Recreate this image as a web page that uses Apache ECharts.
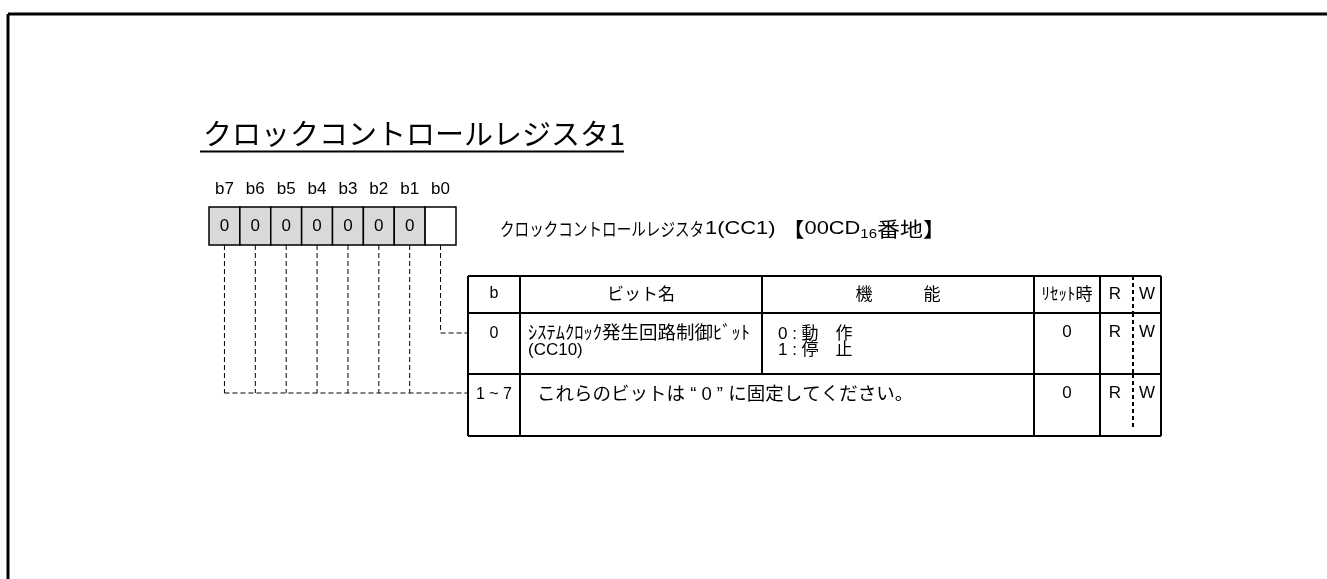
<!DOCTYPE html>
<html><head><meta charset="utf-8">
<script src="https://cdn.jsdelivr.net/npm/echarts@6/dist/echarts.min.js"></script>
<style>html,body{margin:0;padding:0;background:#fff}#c{width:1327px;height:579px}</style>
</head><body><div id="c"></div>
<script>
// ---------------- data ----------------
const titleText = 'クロックコントロールレジスタ1';
const bitLabels = ['b7','b6','b5','b4','b3','b2','b1','b0'];
const bitValues = ['0','0','0','0','0','0','0',''];
const registerName = 'クロックコントロールレジスタ';
const registerSymbol = '1(CC1)';
const registerAddress = '00CD';
const addressBase = '16';
const addressSuffix = '番地';
const headers = ['b','ビット名','機　　　能','ﾘｾｯﾄ時','R','W'];
const rowBits = ['0','1 ~ 7'];
const rowNames = [['ｼｽﾃﾑｸﾛｯｸ発生回路制御ﾋﾞｯﾄ','(CC10)'],['これらのビットは “ 0 ” に固定してください。']];
const rowFunctions = [['0 : 動　作','1 : 停　止'],[]];
const rowReset = ['0','0'];
const rowRead = ['R','R'];
const rowWrite = ['W','W'];
const rowBitGroups = [[7],[0,1,2,3,4,5,6]]; // indices into bitLabels feeding each table row

// ---------------- layout / style ----------------
const W = 1327, H = 579;
const LATIN = "'Liberation Sans', 'Noto Sans CJK JP', sans-serif";
const JP = "'Noto Sans CJK JP', 'Liberation Sans', sans-serif";
const L = {
  frame: {x: 8, y: 14, w: 3},
  title: {x: 203, y: 134, size: 29, ulX1: 200, ulX2: 624, ulY: 151.5},
  caption: {x: 500, y: 229, jpSize: 18, jpScale: 0.81, x2: 705, scale2: 1.15},
  bits: {left: 209, top: 207, width: 247, height: 38},
  cols: [468, 520, 762, 1034, 1100, 1161],
  rows: [276, 313, 374, 436],
  rwSplit: 1133,
  leaderY: [333, 393],
  headerY: 294,
  firstLineOff: 21,
  lineGap: 16,
  nameIndent: [8, 17],
  nameSize: [18.5, 18.5],
  funcIndent: 16,
  rX: 1115, wX: 1147
};

function txt(x, y, text, size, family, align) {
  return {type: 'text', style: {x, y, text, fontSize: size, fontFamily: family, fill: '#000',
    align: align || 'center', verticalAlign: 'middle', textAlign: align || 'center', textVerticalAlign: 'middle'}};
}
function ln(p1, p2, w, dash) {
  return {type: 'line', shape: {x1: p1[0], y1: p1[1], x2: p2[0], y2: p2[1]},
    style: {stroke: '#000', lineWidth: w, lineDash: dash || null}};
}

const option = {
  animation: false,
  backgroundColor: '#fff',
  grid: [
    {left: 0, top: 0, width: W, height: H},
    {left: L.bits.left, top: L.bits.top, width: L.bits.width, height: L.bits.height}
  ],
  xAxis: [
    {type: 'value', gridIndex: 0, min: 0, max: W, show: false},
    {type: 'category', gridIndex: 1, data: bitLabels, position: 'top',
     axisLine: {show: false}, axisTick: {show: false}, splitLine: {show: false},
     axisLabel: {fontSize: 17, fontFamily: LATIN, color: '#000', margin: 9}}
  ],
  yAxis: [
    {type: 'value', gridIndex: 0, min: 0, max: H, inverse: true, show: false},
    {type: 'value', gridIndex: 1, min: 0, max: 1, show: false}
  ],
  series: [
    // frame, title, caption
    {type: 'custom', xAxisIndex: 0, yAxisIndex: 0, data: [[0, 0]], silent: true,
     renderItem: function (params, api) {
       const P = (x, y) => api.coord([x, y]);
       const ch = [];
       ch.push(ln(P(L.frame.x, L.frame.y), P(W, L.frame.y), L.frame.w));
       ch.push(ln(P(L.frame.x, L.frame.y), P(L.frame.x, H), L.frame.w));
       const t = P(L.title.x, L.title.y);
       ch.push(txt(t[0], t[1], titleText, L.title.size, JP, 'left'));
       ch.push(ln(P(L.title.ulX1, L.title.ulY), P(L.title.ulX2, L.title.ulY), 2));
       const c = P(L.caption.x, L.caption.y);
       const jp = txt(0, 0, registerName, L.caption.jpSize, JP, 'left');
       jp.x = c[0]; jp.y = c[1]; jp.scaleX = L.caption.jpScale;
       ch.push(jp);
       const c2 = P(L.caption.x2, L.caption.y);
       ch.push({type: 'text', x: c2[0], y: c2[1], scaleX: L.caption.scale2, style: {
         x: 0, y: 0, align: 'left', verticalAlign: 'middle', textAlign: 'left', textVerticalAlign: 'middle',
         text: '{en|' + registerSymbol + ' }{jp|【}{en|' + registerAddress + '}{sub|' + addressBase + '}{jp|' + addressSuffix + '】}',
         rich: {
           jp: {fontSize: 20, fontFamily: JP, fill: '#000', lineHeight: 24},
           en: {fontSize: 19, fontFamily: LATIN, fill: '#000', lineHeight: 24},
           sub: {fontSize: 13, fontFamily: LATIN, fill: '#000', lineHeight: 24, verticalAlign: 'bottom'}
         }
       }});
       return {type: 'group', children: ch};
     }},
    // bit boxes
    {type: 'custom', xAxisIndex: 1, yAxisIndex: 1, silent: true,
     data: bitValues.map((v, i) => [i, v]),
     renderItem: function (params, api) {
       const i = api.value(0);
       const v = bitValues[params.dataIndex];
       const top = api.coord([i, 1]), bot = api.coord([i, 0]);
       const w = api.size([1, 0])[0];
       return {type: 'group', children: [
         {type: 'rect', shape: {x: top[0] - w / 2, y: top[1], width: w, height: bot[1] - top[1]},
          style: {fill: v === '' ? '#fff' : '#d9d9d9', stroke: '#000', lineWidth: 1.5}},
         txt(top[0], (top[1] + bot[1]) / 2, v, 17, LATIN)
       ]};
     }},
    // leader lines from bits to table rows
    {type: 'custom', xAxisIndex: 1, yAxisIndex: 1, silent: true,
     data: rowBitGroups.map((g, r) => [Math.min.apply(null, g), r]),
     renderItem: function (params, api) {
       const r = params.dataIndex;
       const g = rowBitGroups[r];
       const ch = [];
       const y = L.leaderY[r];
       const dash = [5, 3];
       g.forEach(function (idx) {
         const b = api.coord([idx, 0]);
         ch.push(ln([b[0], b[1]], [b[0], y], 1, dash));
       });
       const left = api.coord([Math.min.apply(null, g), 0]);
       ch.push(ln([left[0], y], [L.cols[0], y], 1, dash));
       return {type: 'group', children: ch};
     }},
    // table header
    {type: 'custom', xAxisIndex: 0, yAxisIndex: 0, data: [[0, 0]], silent: true,
     renderItem: function (params, api) {
       const P = (x, y) => api.coord([x, y]);
       const C = L.cols, R = L.rows;
       const ch = [];
       ch.push(ln(P(C[0], R[0]), P(C[5], R[0]), 2));
       ch.push(ln(P(C[0], R[1]), P(C[5], R[1]), 2));
       C.forEach(function (x) { ch.push(ln(P(x, R[0]), P(x, R[1]), 2)); });
       ch.push(ln(P(L.rwSplit, R[0]), P(L.rwSplit, R[1]), 2, [4, 3]));
       const y = P(0, L.headerY)[1];
       ch.push(txt(P((C[0] + C[1]) / 2, 0)[0], y, headers[0], 16, LATIN));
       ch.push(txt(P((C[1] + C[2]) / 2, 0)[0], y, headers[1], 17, JP));
       ch.push(txt(P((C[2] + C[3]) / 2, 0)[0], y, headers[2], 17, JP));
       ch.push(txt(P((C[3] + C[4]) / 2, 0)[0], y, headers[3], 17, JP));
       ch.push(txt(P(L.rX, 0)[0], y, headers[4], 17, LATIN));
       ch.push(txt(P(L.wX, 0)[0], y, headers[5], 17, LATIN));
       return {type: 'group', children: ch};
     }},
    // table rows
    {type: 'custom', xAxisIndex: 0, yAxisIndex: 0, silent: true,
     data: rowBits.map((b, i) => [i, i]),
     renderItem: function (params, api) {
       const i = params.dataIndex;
       const P = (x, y) => api.coord([x, y]);
       const C = L.cols, R = L.rows;
       const top = R[i + 1], bot = R[i + 2];
       const ch = [];
       ch.push(ln(P(C[0], bot), P(C[5], bot), 2));
       [0, 1, 3, 4, 5].forEach(function (k) { ch.push(ln(P(C[k], top), P(C[k], bot), 2)); });
       if (rowFunctions[i].length) ch.push(ln(P(C[2], top), P(C[2], bot), 2));
       ch.push(ln(P(L.rwSplit, top), P(L.rwSplit, bot - (i === rowBits.length - 1 ? 6 : 0)), 2, [4, 3]));
       const y1 = top + L.firstLineOff;
       ch.push(txt(P((C[0] + C[1]) / 2, 0)[0], P(0, y1)[1], rowBits[i], 16, LATIN));
       rowNames[i].forEach(function (s, k) {
         const p = P(C[1] + L.nameIndent[i], y1 + k * L.lineGap);
         ch.push(txt(p[0], p[1], s, k === 0 ? L.nameSize[i] : 17, LATIN, 'left'));
       });
       rowFunctions[i].forEach(function (s, k) {
         const p = P(C[2] + L.funcIndent, y1 + k * L.lineGap);
         ch.push(txt(p[0], p[1], s, 17, LATIN, 'left'));
       });
       ch.push(txt(P((C[3] + C[4]) / 2, 0)[0], P(0, y1 - 2)[1], rowReset[i], 17, LATIN));
       ch.push(txt(P(L.rX, 0)[0], P(0, y1 - 2)[1], rowRead[i], 17, LATIN));
       ch.push(txt(P(L.wX, 0)[0], P(0, y1 - 2)[1], rowWrite[i], 17, LATIN));
       return {type: 'group', children: ch};
     }}
  ]
};

const chart = echarts.init(document.getElementById('c'), null, {renderer: 'canvas'});
chart.setOption(option);
</script>
</body></html>
